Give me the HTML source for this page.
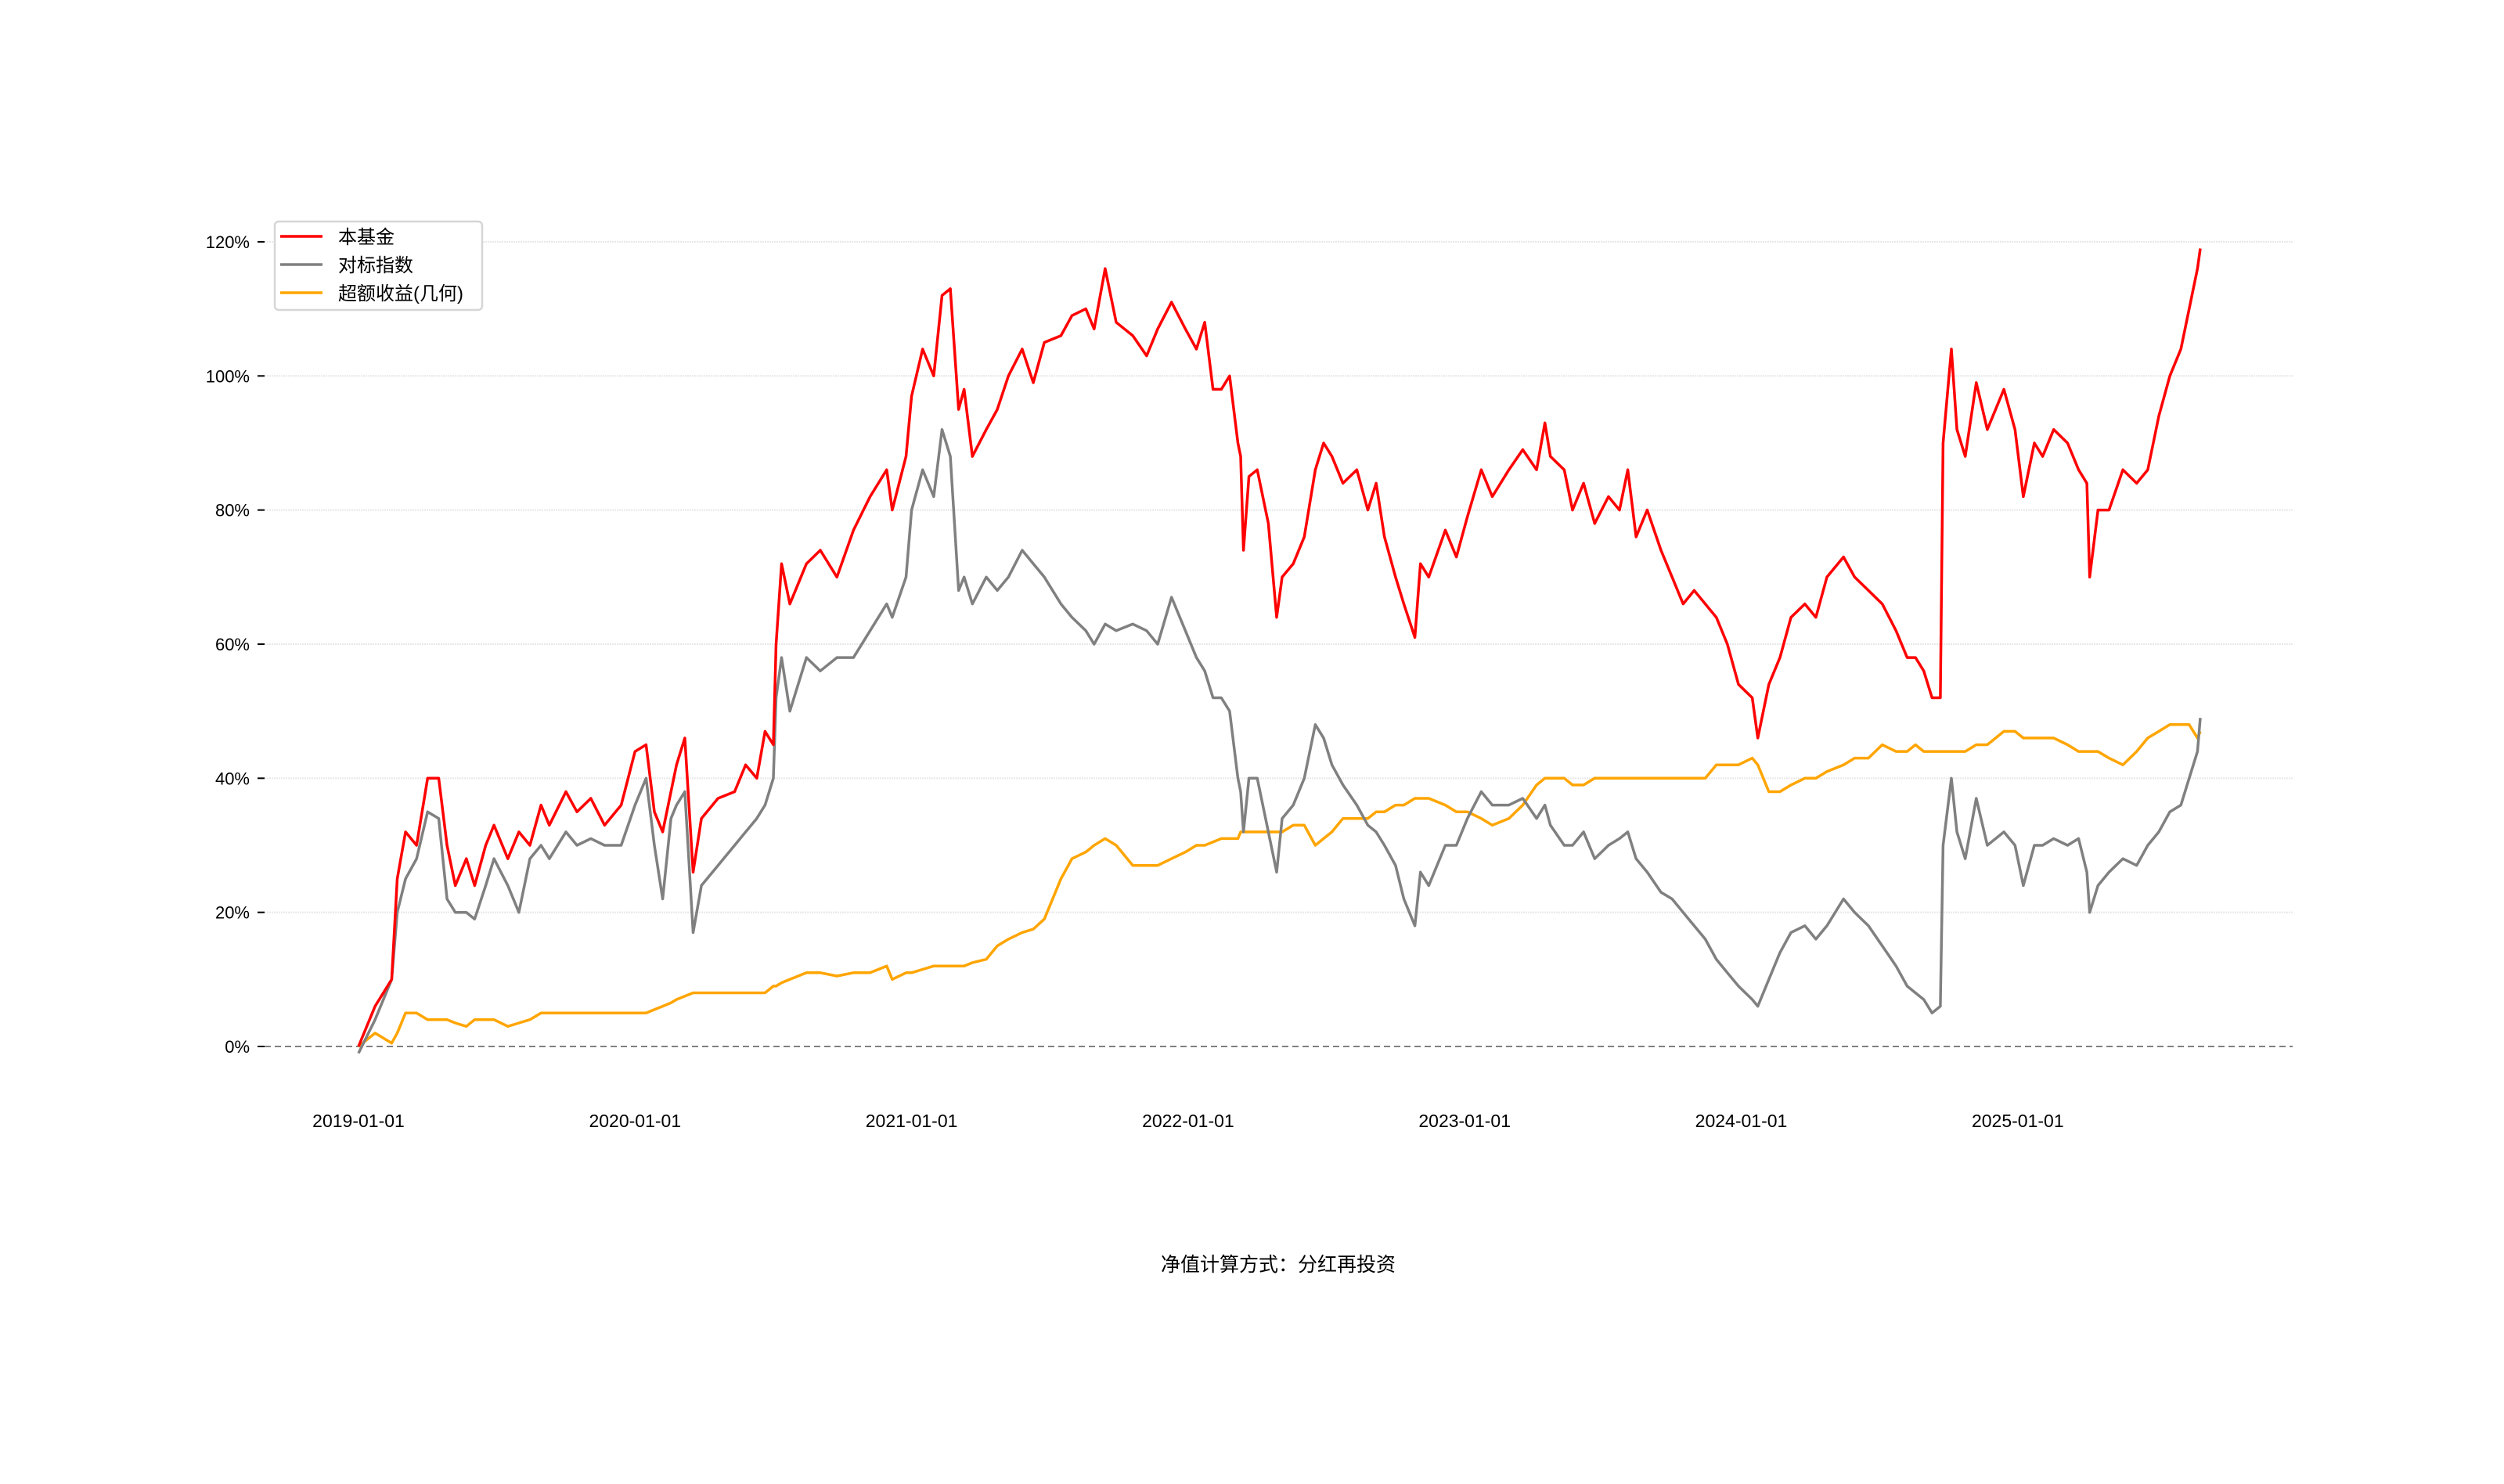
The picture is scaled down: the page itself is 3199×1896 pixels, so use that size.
<!DOCTYPE html>
<html><head><meta charset="utf-8"><style>
html,body{margin:0;padding:0;background:#fff;}
svg{display:block;font-family:"Liberation Sans","Noto Sans CJK SC",sans-serif;}
</style></head><body>
<svg id="chart" width="3199" height="1896" viewBox="0 0 3199 1896" xmlns="http://www.w3.org/2000/svg">
<rect width="3199" height="1896" fill="#fff"/>
<g id="grid"></g>
<g id="yaxis"></g>
<g id="xaxis"></g>
<g id="series"></g>
<g>
<rect x="351" y="283" width="265" height="113" rx="5" fill="#fff" stroke="#d6d6d6" stroke-width="2.5"/>
<line x1="358" y1="302" x2="412" y2="302" stroke="#ff0000" stroke-width="3.5"/>
<text x="432" y="311" font-size="24" fill="#000">本基金</text>
<line x1="358" y1="338" x2="412" y2="338" stroke="#808080" stroke-width="3.5"/>
<text x="432" y="347" font-size="24" fill="#000">对标指数</text>
<line x1="358" y1="374" x2="412" y2="374" stroke="#ffa500" stroke-width="3.5"/>
<text x="432" y="383" font-size="24" fill="#000">超额收益(几何)</text>
</g>
<text x="1633" y="1624" font-size="25" text-anchor="middle" fill="#000">净值计算方式：分红再投资</text>
</svg>
<script>
const dates = [2019.00,2019.06,2019.12,2019.14,2019.17,2019.21,2019.25,2019.29,2019.32,2019.35,2019.39,2019.42,2019.46,2019.49,2019.54,2019.58,2019.62,2019.66,2019.69,2019.75,2019.79,2019.84,2019.89,2019.95,2020.00,2020.04,2020.07,2020.10,2020.13,2020.15,2020.18,2020.21,2020.24,2020.30,2020.36,2020.40,2020.44,2020.47,2020.50,2020.51,2020.53,2020.56,2020.62,2020.67,2020.73,2020.79,2020.85,2020.91,2020.93,2020.98,2021.00,2021.04,2021.08,2021.11,2021.14,2021.17,2021.19,2021.22,2021.27,2021.31,2021.35,2021.40,2021.44,2021.48,2021.54,2021.58,2021.63,2021.66,2021.70,2021.74,2021.80,2021.85,2021.89,2021.94,2021.99,2022.03,2022.06,2022.09,2022.12,2022.15,2022.18,2022.19,2022.20,2022.22,2022.25,2022.29,2022.32,2022.34,2022.38,2022.42,2022.46,2022.49,2022.52,2022.56,2022.61,2022.65,2022.68,2022.71,2022.75,2022.78,2022.82,2022.84,2022.87,2022.93,2022.97,2023.01,2023.06,2023.10,2023.16,2023.21,2023.26,2023.29,2023.31,2023.36,2023.39,2023.43,2023.47,2023.52,2023.56,2023.59,2023.62,2023.66,2023.71,2023.75,2023.79,2023.83,2023.87,2023.91,2023.95,2023.99,2024.04,2024.06,2024.10,2024.14,2024.18,2024.23,2024.27,2024.31,2024.37,2024.41,2024.46,2024.51,2024.56,2024.60,2024.63,2024.66,2024.69,2024.72,2024.73,2024.76,2024.78,2024.81,2024.85,2024.89,2024.95,2024.99,2025.02,2025.06,2025.09,2025.13,2025.18,2025.22,2025.25,2025.26,2025.29,2025.33,2025.38,2025.43,2025.47,2025.51,2025.55,2025.59,2025.62,2025.65,2025.66];
const fundValues = [0,6,10,25,32,30,40,40,30,24,28,24,30,33,28,32,30,36,33,38,35,37,33,36,44,45,35,32,38,42,46,26,34,37,38,42,40,47,45,60,72,66,72,74,70,77,82,86,80,88,97,104,100,112,113,95,98,88,92,95,100,104,99,105,106,109,110,107,116,108,106,103,107,111,107,104,108,98,98,100,90,88,74,85,86,78,64,70,72,76,86,90,88,84,86,80,84,76,70,66,61,72,70,77,73,79,86,82,86,89,86,93,88,86,80,84,78,82,80,86,76,80,74,70,66,68,66,64,60,54,52,46,54,58,64,66,64,70,73,70,68,66,62,58,58,56,52,52,90,104,92,88,99,92,98,92,82,90,88,92,90,86,84,70,80,80,86,84,86,94,100,104,110,116,119];
const indexValues = [-1,4,10,20,25,28,35,34,22,20,20,19,24,28,24,20,28,30,28,32,30,31,30,30,36,40,30,22,34,36,38,17,24,27,30,32,34,36,40,52,58,50,58,56,58,58,62,66,64,70,80,86,82,92,88,68,70,66,70,68,70,74,72,70,66,64,62,60,63,62,63,62,60,67,62,58,56,52,52,50,40,38,32,40,40,32,26,34,36,40,48,46,42,39,36,33,32,30,27,22,18,26,24,30,30,34,38,36,36,37,34,36,33,30,30,32,28,30,31,32,28,26,23,22,20,18,16,13,11,9,7,6,10,14,17,18,16,18,22,20,18,15,12,9,8,7,5,6,30,40,32,28,37,30,32,30,24,30,30,31,30,31,26,20,24,26,28,27,30,32,35,36,40,44,49];
const excessValues = [0,2,0.5,2,5,5,4,4,4,3.5,3,4,4,4,3,3.5,4,5,5,5,5,5,5,5,5,5,5.5,6,6.5,7,7.5,8,8,8,8,8,8,8,9,9,9.5,10,11,11,10.5,11,11,12,10,11,11,11.5,12,12,12,12,12,12.5,13,15,16,17,17.5,19,25,28,29,30,31,30,27,27,27,28,29,30,30,30.5,31,31,31,32,32,32,32,32,32,32,33,33,30,31,32,34,34,34,35,35,36,36,37,37,37,36,35,35,34,33,34,36,39,40,40,40,39,39,40,40,40,40,40,40,40,40,40,40,40,42,42,42,43,42,38,38,39,40,40,41,42,43,43,45,44,44,45,44,44,44,44,44,44,44,45,45,47,47,46,46,46,46,45,44,44,44,44,43,42,44,46,47,48,48,48,46,47];
const yTicks = [0,20,40,60,80,100,120];
const xTickYears = [2019,2020,2021,2022,2023,2024,2025];
const xTickLabels = ["2019-01-01","2020-01-01","2021-01-01","2022-01-01","2023-01-01","2024-01-01","2025-01-01"];

const NS = "http://www.w3.org/2000/svg";
const X0 = 458, PXY = 353.3, Y0 = 1337, PXV = 8.567;
function xs(yr){ return X0 + (yr - 2019) * PXY; }
function ys(v){ return Y0 - v * PXV; }
function mk(tag, attrs, parent){ const e = document.createElementNS(NS, tag); for (const k in attrs) e.setAttribute(k, attrs[k]); parent.appendChild(e); return e; }

const grid = document.getElementById('grid');
const yaxis = document.getElementById('yaxis');
yTicks.forEach(function(t){
  const y = ys(t);
  if (t !== 0) {
    const g = mk('line', {x1:338, x2:2929, y1:y, y2:y, stroke:'#e8e8e8', 'stroke-width':2, 'stroke-dasharray':'2,1'}, grid);
    
    
  }
  const tk = mk('line', {x1:329, x2:338, y1:y, y2:y, stroke:'#000', 'stroke-width':2}, yaxis);
  
  
  const lb = mk('text', {x:319, y:y+8, 'font-size':22, 'text-anchor':'end', fill:'#000'}, yaxis);
  lb.textContent = t + '%';
  
  
});
const zl = mk('line', {x1:338, x2:2929, y1:ys(0), y2:ys(0), stroke:'#808080', 'stroke-width':2, 'stroke-dasharray':'8,5'}, grid);



const xaxis = document.getElementById('xaxis');
xTickYears.forEach(function(yr, i){
  const t = mk('text', {x:xs(yr), y:1440, 'font-size':23, 'text-anchor':'middle', fill:'#000'}, xaxis);
  t.textContent = xTickLabels[i];
  
  
});

const series = document.getElementById('series');
function drawLine(vals, color, name){
  let d = '';
  vals.forEach(function(v, i){ d += (i ? 'L' : 'M') + xs(dates[i]).toFixed(1) + ',' + ys(v).toFixed(1); });
  const p = mk('path', {d:d, fill:'none', stroke:color, 'stroke-width':3.5, 'stroke-linejoin':'round'}, series);
  
  
}
drawLine(excessValues, '#ffa500', 'excess-return-line');
drawLine(indexValues, '#808080', 'benchmark-index-line');
drawLine(fundValues, '#ff0000', 'fund-line');
</script>
</body></html>
